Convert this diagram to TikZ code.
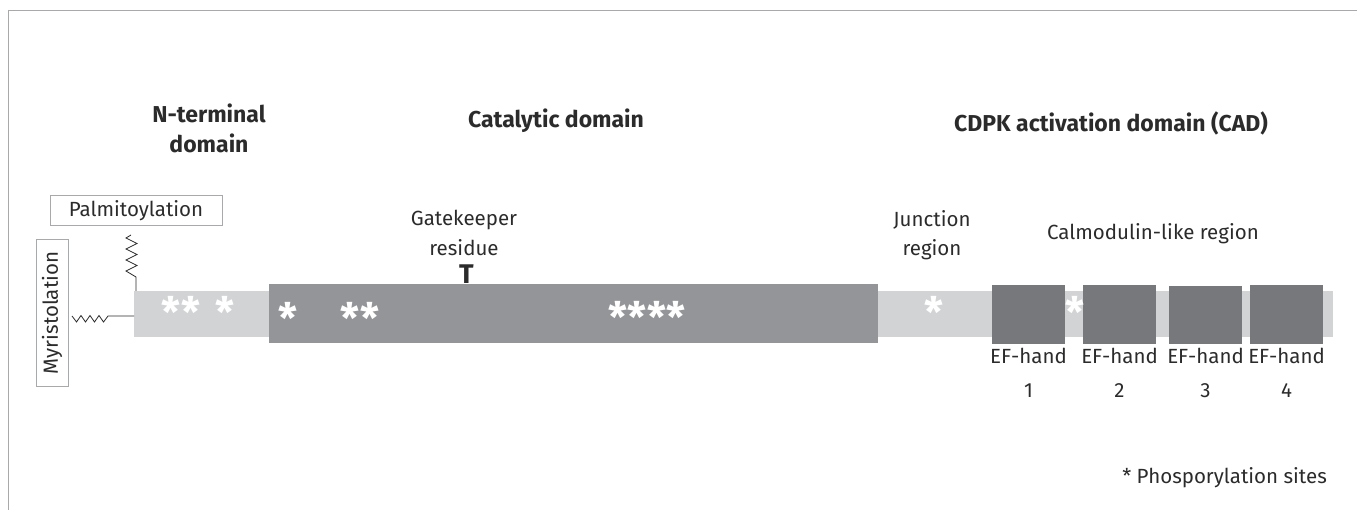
\documentclass[tikz,border=0pt]{standalone}
\usepackage{fontspec}
\setmainfont{Fira Sans}
\definecolor{txt}{HTML}{2B2B2B}
\definecolor{lightbar}{HTML}{D1D3D4}
\definecolor{catbar}{HTML}{939598}
\definecolor{efbar}{HTML}{77787B}
\definecolor{frame}{HTML}{A7A9AC}
\tikzset{
  lbl/.style={font=\fontsize{20.5}{24}\selectfont, text=txt, inner sep=0pt, anchor=base},
  head/.style={font=\fontsize{23}{27}\selectfont\bfseries, text=txt, inner sep=0pt, anchor=base, align=center},
  bar/.style={inner sep=0pt, outer sep=0pt, draw=none},
  star/.style={font=\fontsize{42}{42}\selectfont\bfseries, text=white, inner sep=0pt},
  tagbox/.style={draw=frame, line width=1pt, inner sep=0pt, font=\fontsize{20.5}{24}\selectfont, text=txt},
  link/.style={draw=txt, line width=0.8pt, line join=miter}
}
\begin{document}
\begin{tikzpicture}[x=1pt, y=-1pt]
\useasboundingbox (0,0) rectangle (1357,510);
% outer frame
\draw[frame, line width=1.2pt] (8,10.5) -- (1357,10.5);
\draw[frame, line width=1pt] (8,10) -- (8,510);

% headings
\node[head] (hn) at (209,123) {N-terminal};
\node[head] (hn2) at (209,153) {domain};
\node[head] (hc) at (556,128) {Catalytic domain};
\node[head] (hcad) at (1111,132) {CDPK activation domain (CAD)};

% protein bars
\node[bar, fill=lightbar, minimum width=200, minimum height=46] (cad) at (1233,314) {};
\node[bar, fill=lightbar, minimum width=136, minimum height=46] (nterm) at (202,314) {};
\node[bar, fill=lightbar, minimum width=456, minimum height=46] (junc) at (1105,314) {};
\node[bar, fill=catbar, minimum width=609, minimum height=59] (cat) at (573.5,313.5) {};

% EF-hands
\node[bar, fill=efbar, minimum width=73, minimum height=59] (ef1) at (1028.5,314.5) {};
\node[bar, fill=efbar, minimum width=73, minimum height=59] (ef2) at (1119.5,314.5) {};
\node[bar, fill=efbar, minimum width=73, minimum height=58] (ef3) at (1205.5,315) {};
\node[bar, fill=efbar, minimum width=73, minimum height=59] (ef4) at (1286.5,314.5) {};

\foreach \n/\x in {1/1028.5, 2/1119.5, 3/1205.5, 4/1286.5} {
  \node[lbl] (efl\n) at (\x,364) {EF-hand};
  \node[lbl] (efn\n) at (\x,397) {\n};
}

% phosphorylation sites
\node[star] (s1a) at (181,311.5) {**};
\node[star] (s1b) at (225,311.5) {*};
\node[star] (s2) at (288,317.5) {*};
\node[star] (s3) at (360,317.5) {**};
\node[star] (s4) at (647,316.5) {****};
\node[star] (s5) at (934,311.5) {*};
\node[star] (s6) at (1075,311.5) {*};

% gatekeeper residue
\node[lbl] (gk) at (464,226) {Gatekeeper};
\node[lbl] (gk2) at (464,256) {residue};
\node[font=\fontsize{27}{27}\selectfont\bfseries, text=txt, inner sep=0pt, anchor=base] (gt) at (466.5,284) {T};

% region labels
\node[lbl] (jr) at (932,227) {Junction};
\node[lbl] (jr2) at (932,256) {region};
\node[lbl] (cal) at (1153,240) {Calmodulin-like region};

% lipid modifications
\node[tagbox, minimum width=172, minimum height=30] (palm) at (136,211) {Palmitoylation};
\node[tagbox, rotate=90, minimum width=146, minimum height=32] (myr) at (52,313) {Myristolation};

% palmitoyl chain: saw-tooth down to the N-terminal bar
\coordinate (pz) at (136,277);
\draw[link] (131,235) -- (126,238) -- (137,243.5) -- (126,249) -- (137,254.5)
  -- (126,260) -- (137,265.5) -- (126,271) -- (pz) -- (pz |- nterm.north);

% myristoyl chain: saw-tooth across to the N-terminal bar
\coordinate (mz) at (113,316);
\draw[link] (72,316) -- (76.5,322) -- (81,315.5) -- (85.5,322) -- (90,315.5)
  -- (94.5,322) -- (99,315.5) -- (103.5,322) -- (108,316) -- (mz) -- (mz -| nterm.west);

% legend
\node[lbl, anchor=base east] (leg) at (1327,483) {* Phosporylation sites};
\end{tikzpicture}
\end{document}
